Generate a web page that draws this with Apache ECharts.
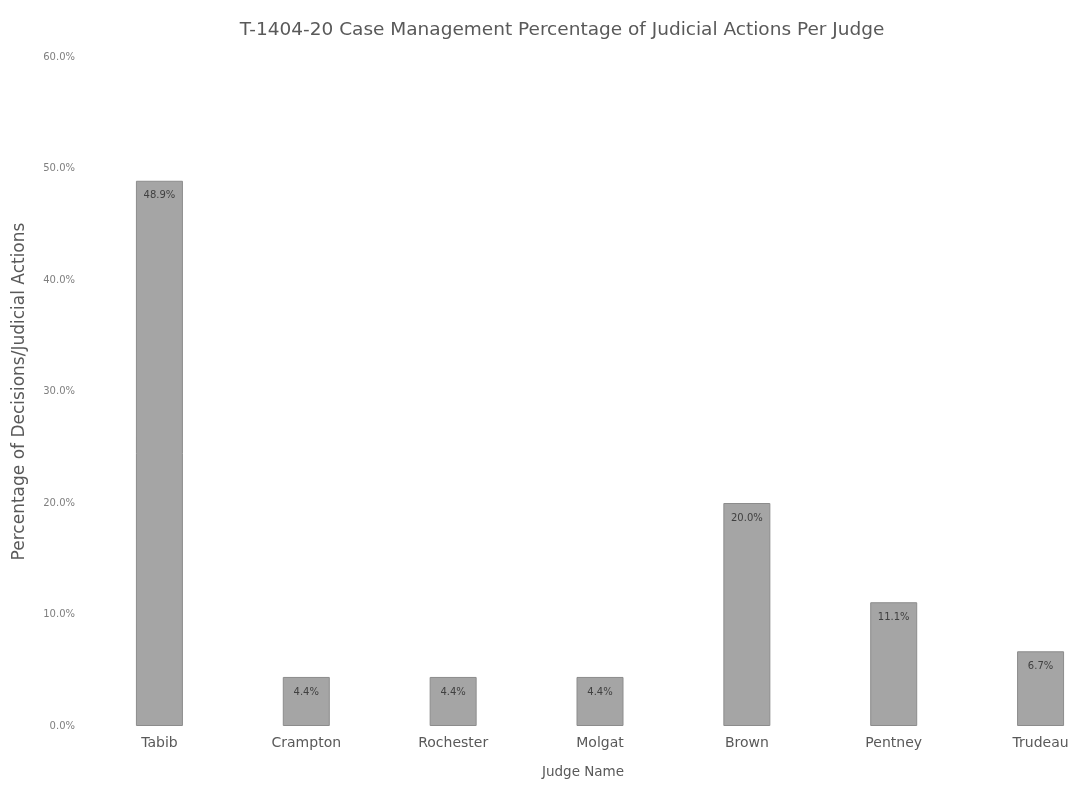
<!DOCTYPE html>
<html>
<head>
<meta charset="utf-8">
<script src="https://cdn.jsdelivr.net/npm/echarts@6/dist/echarts.min.js"></script>
<style>
  html, body { margin: 0; padding: 0; background: #fff; overflow: hidden; }
  /* the original chart is cut off on the right, so the canvas runs past the window */
  #container { width: 1130px; height: 789px; }
</style>
</head>
<body>
<div id="container"></div>
<script>
var judges = ["Tabib", "Crampton", "Rochester", "Molgat", "Brown", "Pentney", "Trudeau"];
var percentages = [48.9, 4.4, 4.4, 4.4, 20.0, 11.1, 6.7];

var dom = document.getElementById("container");
var myChart = echarts.init(dom);
var font = "DejaVu Sans";

var option = {
  animation: false,
  title: {
    text: "T-1404-20 Case Management Percentage of Judicial Actions Per Judge",
    left: 557,
    top: 16,
    textAlign: "center",
    textStyle: { fontFamily: font, fontSize: 18.5, fontWeight: "normal", color: "#595959" }
  },
  grid: { left: 86, top: 57, width: 1028, height: 669 },
  xAxis: {
    type: "category",
    data: judges,
    name: "Judge Name",
    nameLocation: "middle",
    nameGap: 39,
    // shift the name left so it is centred on the visible part
    nameTextStyle: { fontFamily: font, fontSize: 13.5, color: "#595959", padding: [0, 34, 0, 0] },
    axisLine: { show: false },
    axisTick: { show: false },
    axisLabel: { fontFamily: font, fontSize: 14, color: "#595959", margin: 10 }
  },
  yAxis: {
    type: "value",
    min: 0,
    max: 60,
    interval: 10,
    name: "Percentage of Decisions/Judicial Actions",
    nameLocation: "middle",
    nameGap: 58,
    nameTextStyle: { fontFamily: font, fontSize: 17, color: "#595959" },
    splitLine: { show: false },
    axisLine: { show: false },
    axisTick: { show: false },
    axisLabel: {
      fontFamily: font, fontSize: 10, color: "#7f7f7f", margin: 11,
      formatter: function (v) { return v.toFixed(1) + "%"; }
    }
  },
  series: [{
    type: "bar",
    data: percentages,
    barWidth: 47,
    itemStyle: { color: "#a5a5a5", borderColor: "#8c8c8c", borderWidth: 1 },
    label: {
      show: true,
      position: "insideTop",
      distance: 10,
      fontFamily: font,
      fontSize: 10,
      color: "#404040",
      formatter: function (p) { return p.value.toFixed(1) + "%"; }
    }
  }]
};

myChart.setOption(option);
</script>
</body>
</html>
